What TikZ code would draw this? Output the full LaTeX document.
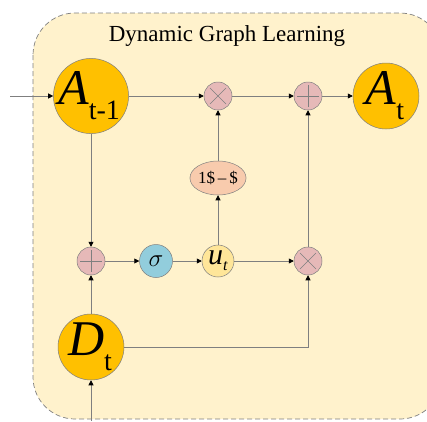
\documentclass[tikz,border=0pt]{standalone}
\usepackage{fontspec}
\setmainfont{Liberation Serif}
\usetikzlibrary{arrows.meta,shapes.geometric}
\definecolor{bgyel}{HTML}{FFF2CC}
\definecolor{orng}{HTML}{FFC000}
\definecolor{opink}{HTML}{E6B9B8}
\definecolor{sblue}{HTML}{92CDDC}
\definecolor{uyel}{HTML}{FFE699}
\definecolor{epeach}{HTML}{F8CBAD}
\definecolor{lgray}{HTML}{7F7F7F}
\tikzset{
  bignode/.style={circle,draw=lgray,fill=orng,minimum size=66pt,inner sep=0pt,line width=0.5pt},
  opnode/.style={circle,draw=lgray,fill=opink,minimum size=28pt,inner sep=0pt,line width=0.5pt},
  timesop/.style={opnode,path picture={\draw[lgray,line width=0.5pt] ([shift={(-8pt,-8pt)}]path picture bounding box.center) -- ++(16pt,16pt) ([shift={(-8pt,8pt)}]path picture bounding box.center) -- ++(16pt,-16pt);}},
  plusop/.style={opnode,path picture={\draw[lgray,line width=0.5pt] ([shift={(-11pt,0pt)}]path picture bounding box.center) -- ++(22pt,0) ([shift={(0pt,-11pt)}]path picture bounding box.center) -- ++(0,22pt);}},
  conn/.style={draw=lgray,line width=0.6pt},
  arr/.style={conn,-{Triangle[length=5pt,width=5pt,fill=black,color=black]}},
}
\begin{document}
\begin{tikzpicture}[x=1pt,y=1pt]
\useasboundingbox (0,0) rectangle (427,-421);
\draw[dashed,draw=lgray,fill=bgyel,line width=0.7pt,rounded corners=42pt,dash pattern=on 5pt off 3pt] (33,-13) rectangle (442,-419);
\node (title) at (227,-36) {\fontsize{23}{26}\selectfont Dynamic Graph Learning};

\node[bignode] (atm) at (91,-96) {\fontsize{50}{50}\selectfont\hspace{-4pt}\textit{A}\raisebox{-15pt}{\fontsize{28}{28}\selectfont t-1}};
\node[bignode] (at) at (386,-96) {\fontsize{50}{50}\selectfont\hspace{-2pt}\textit{A}\raisebox{-15pt}{\fontsize{28}{28}\selectfont t}};
\node[bignode] (dt) at (91,-347) {\fontsize{50}{50}\selectfont\hspace{-2pt}\textit{D}\raisebox{-15pt}{\fontsize{28}{28}\selectfont t}};

\node[timesop] (mult) at (218,-96) {};
\node[plusop] (plust) at (308,-96) {};
\node[plusop] (plusl) at (91,-261) {};
\node[timesop] (mulb) at (308,-261) {};

\node[circle,draw=lgray,fill=sblue,minimum size=33pt,inner sep=0pt,line width=0.5pt] (sig) at (156,-261) {\fontsize{30}{30}\selectfont$\sigma$};
\node[circle,draw=lgray,fill=uyel,minimum size=32pt,inner sep=0pt,line width=0.5pt] (ut) at (218,-261) {\fontsize{30}{30}\selectfont\textit{u}\raisebox{-6pt}{\fontsize{16}{16}\selectfont\textit{t}}};
\node[ellipse,draw=lgray,fill=epeach,minimum width=54pt,minimum height=34pt,inner sep=0pt,line width=0.5pt] (one) at (218,-178) {\fontsize{17}{17}\selectfont 1\$\,–\,\$};

\coordinate (inl) at (10,-96);
\coordinate (inb) at (91,-421);

\draw[arr] (inl) -- (atm);
\draw[arr] (atm) -- (mult);
\draw[arr] (mult) -- (plust);
\draw[arr] (plust) -- (at);
\draw[arr] (atm) -- (plusl);
\draw[arr] (dt) -- (plusl);
\draw[arr] (inb) -- (dt);
\draw[arr] (plusl) -- (sig);
\draw[arr] (sig) -- (ut);
\draw[arr] (ut) -- (mulb);
\draw[arr] (ut) -- (one);
\draw[arr] (one) -- (mult);
\draw[arr] (mulb) -- (plust);
\draw[arr] (dt) -| (mulb);
\end{tikzpicture}
\end{document}
